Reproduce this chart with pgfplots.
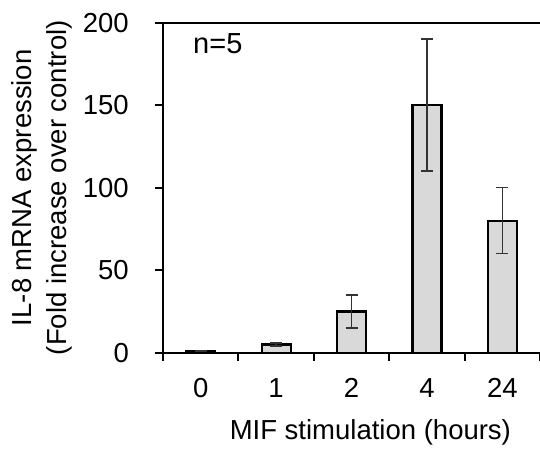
\documentclass[border=0pt]{standalone}
\usepackage{pgfplots}
\pgfplotsset{compat=1.18}
\usepackage{fontspec}
\setmainfont{Liberation Sans}
\definecolor{barfill}{HTML}{D9D9D9}
\definecolor{errc}{HTML}{333333}
\begin{document}
\begin{tikzpicture}
\begin{axis}[
  at={(0,0)}, anchor=south west,
  scale only axis,
  width=377pt, height=330pt,
  xmin=0, xmax=5, ymin=0, ymax=200,
  axis x line*=bottom, axis y line*=left,
  axis line style={line width=1.8pt},
  tick style={line width=1.8pt, black},
  tick align=outside,
  major tick length=8pt,
  xtick={0,1,2,3,4,5}, xticklabels={},
  extra x ticks={0.5,1.5,2.5,3.5,4.5},
  extra x tick labels={0,1,2,4,24},
  extra x tick style={major tick length=0pt, xticklabel style={anchor=base, inner sep=0pt, yshift=-45pt}},
  ytick={0,50,100,150,200},
  yticklabel style={anchor=east, inner sep=0pt, xshift=-26pt},
  ticklabel style={font=\fontsize{27.5}{32}\selectfont},
  /pgf/number format/assume math mode=true,
  xlabel={MIF stimulation (hours)},
  xlabel style={font=\fontsize{27.5}{32}\selectfont, at={(axis description cs:0.55,0)}, anchor=base, inner sep=0pt, yshift=-87pt},
  ylabel={IL-8 mRNA expression\\(Fold increase over control)},
  ylabel style={font=\fontsize{27.5}{35}\selectfont, align=center, at={(axis description cs:-0.321,0.5)}, anchor=center, inner sep=0pt},
  clip=false,
]
\addplot[ybar, bar width=29pt, fill=barfill, draw=black, line width=2.2pt,
  error bars/.cd, y dir=both, y explicit,
  error bar style={line width=1.5pt, errc},
  error mark options={rotate=90, mark size=6pt, line width=1.5pt, errc}]
  coordinates {
  (0.5,1) +- (0,0.3)
  (1.5,5) +- (0,1)
  (2.5,25) +- (0,10)
  (3.5,150) +- (0,40)
  (4.5,80) +- (0,20)
};
\draw[line width=1.8pt] (rel axis cs:0,1) -- (rel axis cs:1,1);
\draw[line width=1pt, black!20] (rel axis cs:1,0) -- (rel axis cs:1,1);
\node[anchor=base west, inner sep=0pt, font=\fontsize{29}{32}\selectfont] at (axis cs:0.398,181.5) {n=5};
\end{axis}
\pgfresetboundingbox
\useasboundingbox (-163pt,-97.3pt) rectangle (377pt,352.7pt);
\end{tikzpicture}
\end{document}
